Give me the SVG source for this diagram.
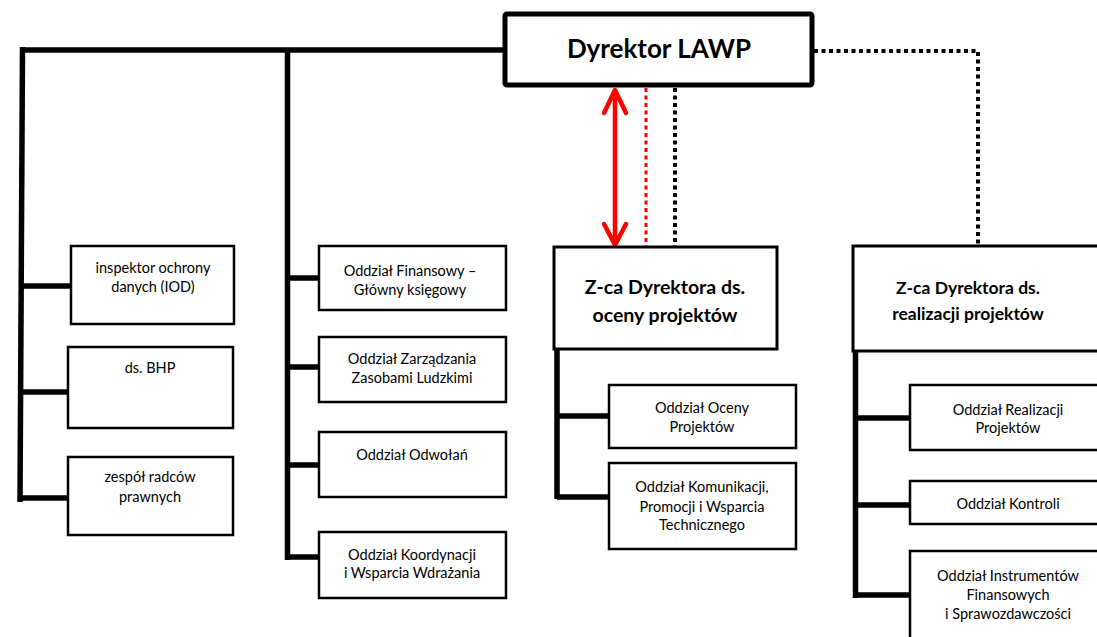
<svg xmlns="http://www.w3.org/2000/svg" width="1097" height="637" viewBox="0 0 1097 637">
<style>
.box{fill:#fff;stroke:#000;stroke-width:2.5}
.zbox{fill:#fff;stroke:#000;stroke-width:3}
.dbox{fill:#fff;stroke:#000;stroke-width:5}
.t{font-family:Lato,"Liberation Sans",sans-serif;font-size:14.5px;fill:#000;text-anchor:middle}
.tb{font-family:Lato,"Liberation Sans",sans-serif;font-weight:bold;fill:#000;text-anchor:middle}
.ln{stroke:#000;stroke-width:5.5;fill:none}
.dot{stroke:#000;stroke-width:4;fill:none;stroke-dasharray:4 3.5}
.rdot{stroke:#f00;stroke-width:3;fill:none;stroke-dasharray:4 3.5}
.red{stroke:#f00;stroke-width:4.5;fill:none;stroke-linecap:round;stroke-linejoin:round}
</style>
<rect width="1097" height="637" fill="#fff"/>
<g id="connectors">
<path class="ln" d="M20,50 H505"/>
<path class="ln" d="M22.5,47 L20,502"/>
<path class="ln" d="M287.5,50 V560"/>
<path class="ln" d="M20,286 H71 M20,392 H68 M20,498 H68"/>
<path class="ln" d="M287,278 H319 M287,367 H319 M287,465 H319 M287,557 H319"/>
<path class="ln" d="M557,349 V499 M557,416 H609 M557,497 H609"/>
<path class="ln" d="M855.5,351 V598 M855,418 H910 M855,505 H910 M855,595 H910"/>
<path class="dot" d="M814,51 H978 V246"/>
<path class="dot" d="M675,88 V246"/>
<path class="rdot" d="M646,88 V247"/>
<path class="red" d="M615,92 V243 M604,113 L615,90 L626,113 M604,224 L615,245 L626,224"/>
</g>
<g id="dyrektor">
<rect class="dbox" x="505" y="14" width="307" height="71" rx="2"/>
<text class="tb" x="659" y="58" font-size="26">Dyrektor LAWP</text>
</g>
<g id="iod">
<rect class="box" x="71" y="246" width="163" height="78"/>
<text class="t" x="153" y="273">inspektor ochrony</text>
<text class="t" x="153" y="292">danych (IOD)</text>
</g>
<g id="bhp">
<rect class="box" x="68" y="347" width="165" height="81"/>
<text class="t" x="150" y="373">ds. BHP</text>
</g>
<g id="radcy">
<rect class="box" x="68" y="457" width="165" height="78"/>
<text class="t" x="150" y="482">zespół radców</text>
<text class="t" x="150" y="502">prawnych</text>
</g>
<g id="finansowy">
<rect class="box" x="319" y="246" width="187" height="64"/>
<text class="t" x="410" y="276">Oddział Finansowy –</text>
<text class="t" x="410" y="295">Główny księgowy</text>
</g>
<g id="kadry">
<rect class="box" x="319" y="337" width="187" height="65"/>
<text class="t" x="412" y="364">Oddział Zarządzania</text>
<text class="t" x="412" y="383">Zasobami Ludzkimi</text>
</g>
<g id="odwolan">
<rect class="box" x="319" y="432" width="187" height="65"/>
<text class="t" x="412" y="460">Oddział Odwołań</text>
</g>
<g id="koordynacji">
<rect class="box" x="319" y="532" width="187" height="66"/>
<text class="t" x="412" y="560">Oddział Koordynacji</text>
<text class="t" x="412" y="578">i Wsparcia Wdrażania</text>
</g>
<g id="zca-oceny">
<rect class="zbox" x="554" y="247" width="223" height="102"/>
<text class="tb" x="665" y="294" font-size="19.5">Z-ca Dyrektora ds.</text>
<text class="tb" x="665" y="322" font-size="19.5">oceny projektów</text>
</g>
<g id="oceny">
<rect class="box" x="609" y="385" width="187" height="63"/>
<text class="t" x="702" y="413">Oddział Oceny</text>
<text class="t" x="702" y="432">Projektów</text>
</g>
<g id="komunikacji">
<rect class="box" x="609" y="463" width="187" height="86"/>
<text class="t" x="702" y="492">Oddział Komunikacji,</text>
<text class="t" x="702" y="512">Promocji i Wsparcia</text>
<text class="t" x="702" y="530">Technicznego</text>
</g>
<g id="zca-realizacji">
<rect class="zbox" x="853" y="246" width="250" height="105"/>
<text class="tb" x="968" y="294" font-size="17.5">Z-ca Dyrektora ds.</text>
<text class="tb" x="968" y="320" font-size="17.5">realizacji projektów</text>
</g>
<g id="realizacji">
<rect class="box" x="910" y="385" width="196" height="65"/>
<text class="t" x="1008" y="415">Oddział Realizacji</text>
<text class="t" x="1008" y="433">Projektów</text>
</g>
<g id="kontroli">
<rect class="box" x="910" y="481" width="196" height="43"/>
<text class="t" x="1008" y="509">Oddział Kontroli</text>
</g>
<g id="instrumentow">
<rect class="box" x="910" y="551" width="196" height="95"/>
<text class="t" x="1008" y="581">Oddział Instrumentów</text>
<text class="t" x="1008" y="600">Finansowych</text>
<text class="t" x="1008" y="619">i Sprawozdawczości</text>
</g>
</svg>
